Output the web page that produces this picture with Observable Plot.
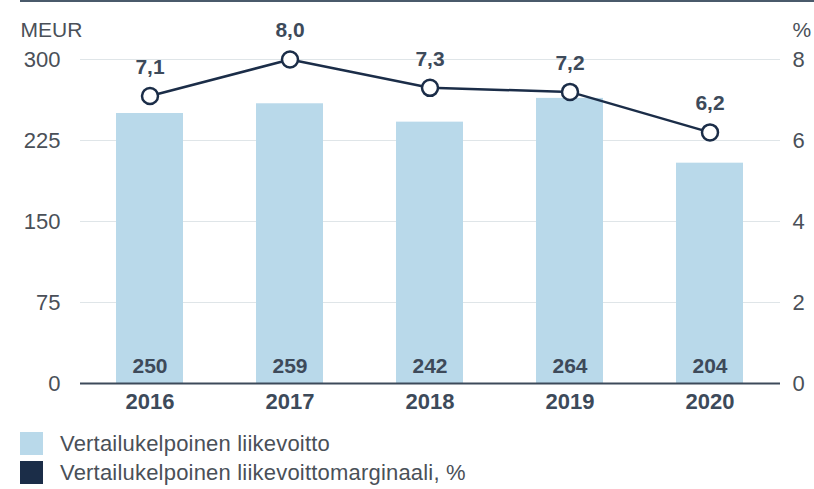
<!DOCTYPE html>
<html>
<head>
<meta charset="utf-8">
<script src="https://cdn.jsdelivr.net/npm/d3@7"></script>
<script src="https://cdn.jsdelivr.net/npm/@observablehq/plot@0.6"></script>
<style>
  body { margin: 0; background: #fff; font-family: "Liberation Sans", Arial, sans-serif; }
  #topline { margin-left: 20px; height: 0; border-top: 2px solid #4a5a6b; }
  #legend { margin: 9px 0 0 20px; }
  .item { display: flex; align-items: center; height: 29px; font-size: 22px; letter-spacing: 0.2px; color: #4a5058; }
  .sw { width: 23px; height: 23px; margin-right: 17px; }
</style>
</head>
<body>
<div id="topline"></div>
<div id="chart"></div>
<div id="legend"></div>
<script>
const years = ["2016", "2017", "2018", "2019", "2020"];
const profit = [250, 259, 242, 264, 204];
const margin = [7.1, 8.0, 7.3, 7.2, 6.2];
const leftTicks = [0, 75, 150, 225, 300];
const rightTicks = [0, 2, 4, 6, 8];
const seriesNames = ["Vertailukelpoinen liikevoitto", "Vertailukelpoinen liikevoittomarginaali, %"];
const barColor = "#b9d9ea";
const lineColor = "#1b2d48";
const textColor = "#3d4a5a";

const yMax = 300, pctMax = 8;
const toY = p => p * yMax / pctMax;

const data = years.map((y, i) => ({year: y, profit: profit[i], margin: margin[i], my: toY(margin[i])}));
const fmt = v => v.toFixed(1).replace(".", ",");

const chart = Plot.plot({
  width: 814,
  height: 418,
  marginLeft: 80,
  marginRight: 34,
  marginTop: 57,
  marginBottom: 37,
  style: {fontFamily: "Liberation Sans, Arial, sans-serif", color: textColor, background: "white"},
  x: {domain: years, paddingInner: 0.52, paddingOuter: 0.26},
  y: {domain: [0, yMax]},
  marks: [
    Plot.gridY(leftTicks, {stroke: "#dfe5e8", strokeOpacity: 1, strokeWidth: 1}),
    Plot.barY(data, {x: "year", y: "profit", fill: barColor}),
    Plot.ruleY([0], {stroke: textColor, strokeWidth: 2}),
    Plot.axisY(leftTicks, {anchor: "left", tickSize: 0, tickPadding: 20, fontSize: 22, fill: "#4a5058", label: null}),
    Plot.axisY(leftTicks, {anchor: "right", tickSize: 0, tickPadding: 12, fontSize: 22, fill: "#4a5058", label: null,
      tickFormat: (d, i) => String(rightTicks[i])}),
    Plot.axisX({tickSize: 0, tickPadding: 10, fontSize: 22, fontWeight: "bold", fill: textColor, label: null}),
    Plot.text(["MEUR"], {frameAnchor: "top-left", dx: -60, dy: -37, fontSize: 21, fill: "#4a5058", textAnchor: "start"}),
    Plot.text(["%"], {frameAnchor: "top-right", dx: 12, dy: -37, fontSize: 21, fill: "#4a5058", textAnchor: "start"}),
    Plot.text(data, {x: "year", y: 0, text: d => String(d.profit), dy: -17, fontSize: 21, fontWeight: "bold", fill: textColor}),
    Plot.line(data, {x: "year", y: "my", stroke: lineColor, strokeWidth: 2.5}),
    Plot.dot(data, {x: "year", y: "my", r: 8, fill: "white", stroke: lineColor, strokeWidth: 2.5}),
    Plot.text(data, {x: "year", y: "my", text: d => fmt(d.margin), dy: -29, fontSize: 21, fontWeight: "bold", fill: textColor})
  ]
});
document.getElementById("chart").appendChild(chart);

const legend = document.getElementById("legend");
[barColor, lineColor].forEach((c, i) => {
  const item = document.createElement("div");
  item.className = "item";
  const sw = document.createElement("div");
  sw.className = "sw";
  sw.style.background = c;
  const t = document.createElement("span");
  t.textContent = seriesNames[i];
  item.appendChild(sw);
  item.appendChild(t);
  legend.appendChild(item);
});
</script>
</body>
</html>
